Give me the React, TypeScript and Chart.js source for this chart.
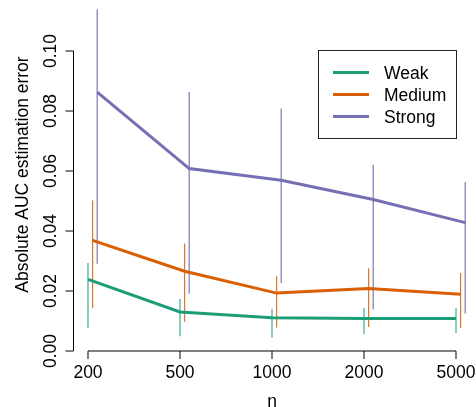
import React, { useEffect, useRef } from 'react';
import { Chart, registerables } from 'chart.js';

Chart.register(...registerables);

// ---- data ----
const nLabels = ['200', '500', '1000', '2000', '5000'];
const seriesNames = ['Weak', 'Medium', 'Strong'];
const weak = [0.0239, 0.013, 0.0111, 0.0108, 0.0108];
const weakLo = [0.0077, 0.0049, 0.0045, 0.0056, 0.006];
const weakHi = [0.0293, 0.0173, 0.0141, 0.0143, 0.0143];
const medium = [0.0369, 0.0266, 0.0193, 0.0208, 0.0189];
const mediumLo = [0.0143, 0.0097, 0.0078, 0.008, 0.0077];
const mediumHi = [0.0502, 0.0358, 0.0249, 0.0276, 0.026];
const strong = [0.0863, 0.0608, 0.0569, 0.0505, 0.0428];
const strongLo = [0.0291, 0.0191, 0.0227, 0.0138, 0.0125];
const strongHi = [0.1138, 0.0863, 0.0808, 0.0621, 0.0563];
const yTicks = [0, 0.02, 0.04, 0.06, 0.08, 0.1];
const yTickLabels = ['0.00', '0.02', '0.04', '0.06', '0.08', '0.10'];
const xTitle = 'n';
const yTitle = 'Absolute AUC estimation error';

const colors = ['#1B9E77', '#D95F02', '#7570B3'];
const barColors = ['rgba(27,158,119,0.85)', 'rgba(217,95,2,0.85)', 'rgba(117,112,179,0.95)'];
const offsets = [0, 0.05, 0.1];
const FONT = '"Liberation Sans", Arial, Helvetica, sans-serif';
const FS = 17.5;

const rPlugin = {
  id: 'rStyle',
  afterDraw(chart: any) {
    const ctx = chart.ctx as CanvasRenderingContext2D;
    const xs = chart.scales.x;
    const ys = chart.scales.y;
    ctx.save();
    ctx.strokeStyle = '#000';
    ctx.fillStyle = '#000';
    ctx.lineWidth = 1;
    ctx.font = `${FS}px ${FONT}`;

    // y axis
    const axX = Math.round(chart.chartArea.left) + 0.5;
    const y0 = ys.getPixelForValue(yTicks[0]);
    const y1 = ys.getPixelForValue(yTicks[yTicks.length - 1]);
    ctx.beginPath();
    ctx.moveTo(axX, y0);
    ctx.lineTo(axX, y1);
    yTicks.forEach((v) => {
      const py = ys.getPixelForValue(v);
      ctx.moveTo(axX - 8, py);
      ctx.lineTo(axX, py);
    });
    ctx.stroke();
    yTickLabels.forEach((lab, i) => {
      const py = ys.getPixelForValue(yTicks[i]);
      ctx.save();
      ctx.translate(55.5, py);
      ctx.rotate(-Math.PI / 2);
      ctx.textAlign = 'center';
      ctx.textBaseline = 'alphabetic';
      ctx.fillText(lab, 0, 0);
      ctx.restore();
    });

    // x axis
    const axY = chart.chartArea.bottom;
    const xa = xs.getPixelForValue(1);
    const xb = xs.getPixelForValue(nLabels.length);
    ctx.beginPath();
    ctx.moveTo(xa, axY);
    ctx.lineTo(xb, axY);
    nLabels.forEach((_, i) => {
      const px = xs.getPixelForValue(i + 1);
      ctx.moveTo(px, axY);
      ctx.lineTo(px, axY + 8);
    });
    ctx.stroke();
    ctx.textAlign = 'center';
    ctx.textBaseline = 'alphabetic';
    nLabels.forEach((lab, i) => {
      ctx.fillText(lab, xs.getPixelForValue(i + 1), 378);
    });
    ctx.fillText(xTitle, (xa + xb) / 2, 406.5);

    // y title
    ctx.save();
    ctx.translate(27.5, 174.5);
    ctx.rotate(-Math.PI / 2);
    ctx.textAlign = 'center';
    ctx.fillText(yTitle, 0, 0);
    ctx.restore();

    // legend
    ctx.strokeStyle = '#222';
    ctx.lineWidth = 1;
    ctx.strokeRect(318.5, 50.5, 138, 88);
    const ly = [72.5, 94.5, 116.5];
    seriesNames.forEach((name, i) => {
      ctx.strokeStyle = colors[i];
      ctx.lineWidth = 3;
      ctx.beginPath();
      ctx.moveTo(333, ly[i]);
      ctx.lineTo(369, ly[i]);
      ctx.stroke();
      ctx.textAlign = 'left';
      ctx.fillStyle = '#000';
      ctx.fillText(name, 384, ly[i] + 6.5);
    });
    ctx.restore();
  },
};

export default function App() {
  const ref = useRef<HTMLCanvasElement>(null);
  useEffect(() => {
    document.body.style.margin = '0';
    const vals = [weak, medium, strong];
    const lows = [weakLo, mediumLo, strongLo];
    const highs = [weakHi, mediumHi, strongHi];
    const datasets: any[] = [];
    vals.forEach((arr, s) => {
      arr.forEach((_, i) => {
        const x = i + 1 + offsets[s];
        datasets.push({
          label: `${seriesNames[s]} range ${nLabels[i]}`,
          data: [
            { x, y: lows[s][i] },
            { x, y: highs[s][i] },
          ],
          borderColor: barColors[s],
          borderWidth: 1.2,
          pointRadius: 0,
          fill: false,
          order: 2,
        });
      });
    });
    vals.forEach((arr, s) => {
      datasets.push({
        label: seriesNames[s],
        data: arr.map((v, i) => ({ x: i + 1 + offsets[s], y: v })),
        borderColor: colors[s],
        borderWidth: 3,
        pointRadius: 0,
        tension: 0,
        fill: false,
        order: 1,
      });
    });
    const chart = new Chart(ref.current!, {
      type: 'line',
      data: { datasets },
      options: {
        animation: false,
        responsive: false,
        devicePixelRatio: 1,
        layout: { padding: { left: 73, right: 5, top: 3, bottom: 56 } },
        plugins: { legend: { display: false }, tooltip: { enabled: false } },
        scales: {
          x: { type: 'linear', min: 0.837, max: 5.163, display: false },
          y: { type: 'linear', min: 0, max: 0.116, display: false },
        },
      },
      plugins: [rPlugin],
    });
    return () => chart.destroy();
  }, []);
  return (
    <div style={{ position: 'fixed', left: 0, top: 0, width: 476, height: 407, background: '#fff' }}>
      <canvas ref={ref} width={476} height={407} style={{ width: 476, height: 407 }} />
    </div>
  );
}
